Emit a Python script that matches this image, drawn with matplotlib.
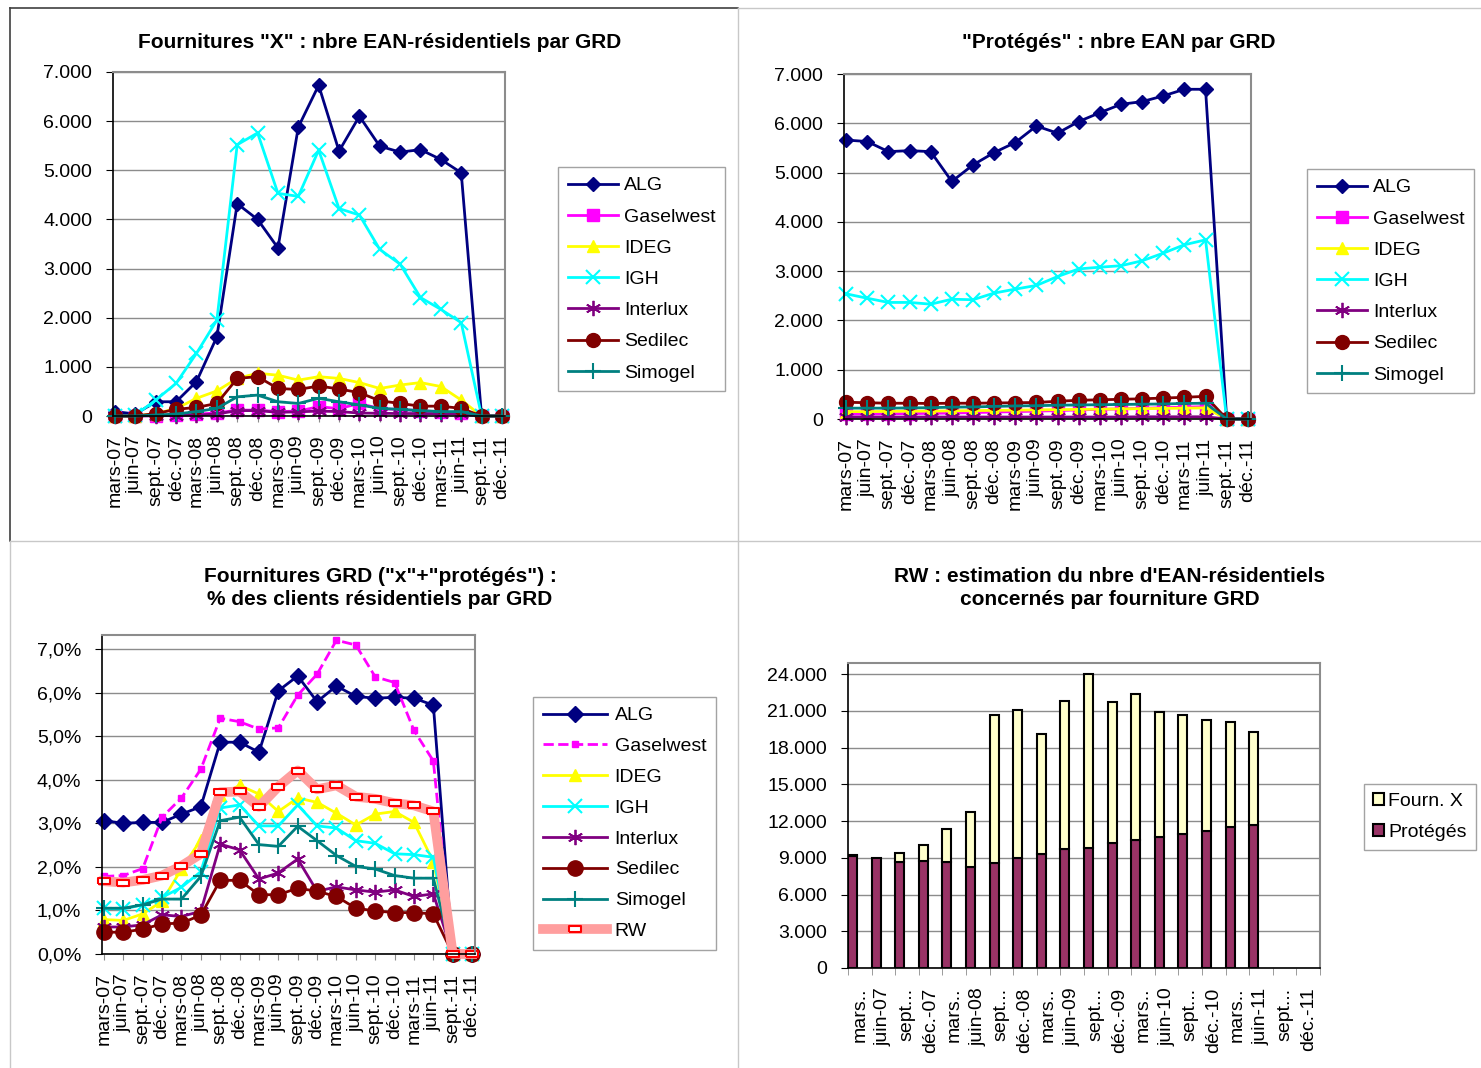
import numpy as np
import matplotlib
matplotlib.use("Agg")
import matplotlib.pyplot as plt
from matplotlib.lines import Line2D
from matplotlib.patches import Patch
from matplotlib.ticker import FuncFormatter, FixedLocator

plt.rcParams['font.family'] = ['Liberation Sans', 'DejaVu Sans']

# catégories (trimestres)
mois = ["mars-07", "juin-07", "sept.-07", "déc.-07", "mars-08", "juin-08", "sept.-08", "déc.-08",
        "mars-09", "juin-09", "sept.-09", "déc.-09", "mars-10", "juin-10", "sept.-10", "déc.-10",
        "mars-11", "juin-11", "sept.-11", "déc.-11"]
mois_court = ["mars..", "juin-07", "sept...", "déc.-07", "mars..", "juin-08", "sept...", "déc.-08",
              "mars..", "juin-09", "sept...", "déc.-09", "mars..", "juin-10", "sept...", "déc.-10",
              "mars..", "juin-11", "sept...", "déc.-11"]
grd = ["ALG", "Gaselwest", "IDEG", "IGH", "Interlux", "Sedilec", "Simogel"]

# Fournitures "X" : nbre EAN-résidentiels
x_alg = [90, 40, 290, 290, 700, 1610, 4320, 4000, 3420, 5880, 6730, 5390, 6100, 5490, 5370, 5420, 5220, 4950, 0, 0]
x_gas = [0, 0, 10, 20, 40, 60, 120, 120, 90, 100, 190, 150, 255, 150, 130, 110, 80, 60, 0, 0]
x_ideg = [0, 0, 50, 150, 360, 510, 765, 870, 830, 730, 800, 765, 680, 560, 630, 680, 600, 325, 0, 0]
x_igh = [0, 20, 325, 665, 1275, 1950, 5520, 5760, 4530, 4470, 5410, 4220, 4090, 3390, 3090, 2410, 2170, 1900, 0, 0]
x_inter = [0, 0, 5, 10, 20, 40, 110, 110, 75, 85, 100, 90, 60, 55, 50, 50, 45, 40, 0, 0]
x_sed = [0, 0, 50, 135, 175, 255, 765, 800, 560, 540, 610, 550, 475, 310, 255, 200, 200, 155, 0, 0]
x_sim = [0, 0, 20, 40, 90, 155, 390, 425, 290, 255, 360, 290, 225, 155, 135, 110, 90, 90, 0, 0]

# "Protégés" : nbre EAN
p_alg = [5660, 5630, 5425, 5445, 5425, 4820, 5155, 5405, 5610, 5945, 5800, 6035, 6215, 6385, 6440, 6555, 6690, 6690, 0, 0]
p_gas = [100, 100, 105, 110, 115, 120, 130, 140, 150, 160, 170, 185, 195, 205, 215, 230, 240, 250, 0, 0]
p_ideg = [150, 150, 155, 160, 160, 165, 170, 175, 180, 185, 190, 195, 200, 205, 210, 215, 220, 225, 0, 0]
p_igh = [2540, 2450, 2365, 2365, 2330, 2430, 2420, 2555, 2635, 2710, 2890, 3045, 3080, 3110, 3210, 3365, 3535, 3635, 0, 0]
p_inter = [40, 40, 40, 40, 40, 40, 40, 40, 40, 40, 40, 40, 40, 40, 45, 45, 45, 45, 0, 0]
p_sed = [340, 330, 320, 320, 315, 320, 320, 325, 330, 335, 360, 380, 390, 400, 410, 425, 440, 460, 0, 0]
p_sim = [220, 220, 220, 225, 230, 240, 245, 255, 265, 270, 280, 285, 290, 295, 300, 305, 315, 320, 0, 0]

# % des clients résidentiels
c_alg = [3.06, 3.00, 3.02, 3.02, 3.21, 3.38, 4.86, 4.86, 4.63, 6.04, 6.38, 5.79, 6.15, 5.91, 5.87, 5.89, 5.87, 5.71, 0, 0]
c_gas = [1.78, 1.80, 1.96, 3.14, 3.58, 4.24, 5.41, 5.33, 5.16, 5.19, 5.94, 6.42, 7.20, 7.09, 6.36, 6.23, 5.13, 4.43, 0, 0]
c_ideg = [0.79, 0.77, 0.92, 1.21, 1.95, 2.62, 3.64, 3.87, 3.67, 3.27, 3.58, 3.48, 3.23, 2.96, 3.21, 3.27, 3.02, 2.12, 0, 0]
c_igh = [1.05, 1.03, 1.13, 1.30, 1.53, 1.89, 3.35, 3.42, 2.94, 2.94, 3.42, 2.94, 2.89, 2.60, 2.54, 2.30, 2.28, 2.22, 0, 0]
c_inter = [0.62, 0.62, 0.67, 0.90, 0.86, 0.98, 2.52, 2.39, 1.72, 1.86, 2.18, 1.44, 1.54, 1.47, 1.42, 1.47, 1.32, 1.38, 0, 0]
c_sed = [0.50, 0.50, 0.57, 0.69, 0.71, 0.89, 1.69, 1.69, 1.36, 1.36, 1.51, 1.44, 1.32, 1.05, 0.99, 0.95, 0.95, 0.92, 0, 0]
c_sim = [1.05, 1.05, 1.13, 1.26, 1.26, 1.78, 3.06, 3.14, 2.51, 2.47, 2.93, 2.60, 2.26, 2.01, 1.95, 1.80, 1.74, 1.74, 0, 0]
c_rw = [1.67, 1.64, 1.70, 1.80, 2.02, 2.30, 3.71, 3.73, 3.38, 3.84, 4.21, 3.78, 3.87, 3.61, 3.56, 3.46, 3.41, 3.27, 0, 0]

# RW : estimation (barres empilées)
rw_protege = [9136, 8945, 8618, 8727, 8673, 8209, 8536, 8945, 9273, 9736, 9818, 10227, 10445, 10691, 10909, 11182, 11536, 11673, 0, 0]
rw_fourn = [50, 0, 790, 1310, 2645, 4555, 12082, 12137, 9845, 12082, 14182, 11482, 11919, 10200, 9709, 9082, 8509, 7582, 0, 0]

W, H = 1481, 1068
FS = 14


def rect(l, t, r, b):
    return [l / W, 1 - b / H, (r - l) / W, (b - t) / H]


def fx(x):
    return x / W


def fy(y):
    return 1 - y / H


etoile = (6, 2, 0)
rw_mk = [(-1, -0.45), (1, -0.45), (1, 0.45), (-1, 0.45), (-1, -0.45)]
styles = {
    "ALG": dict(color="#000080", marker="D", ms=7),
    "Gaselwest": dict(color="#FF00FF", marker="s", ms=8),
    "IDEG": dict(color="#FFFF00", marker="^", ms=9),
    "IGH": dict(color="#00FFFF", marker="x", ms=10, mew=1.5),
    "Interlux": dict(color="#800080", marker=etoile, ms=11, mew=1.3),
    "Sedilec": dict(color="#800000", marker="o", ms=10),
    "Simogel": dict(color="#008080", marker="+", ms=12, mew=1.5),
}


def style_axe(ax):
    ax.set_facecolor("white")
    ax.grid(axis="y", color="#8c8c8c", lw=1)
    ax.set_axisbelow(True)
    for s in ["top", "right"]:
        ax.spines[s].set_color("#8c8c8c")
        ax.spines[s].set_linewidth(1.5)
    for s in ["left", "bottom"]:
        ax.spines[s].set_color("black")
        ax.spines[s].set_linewidth(1.2)
    ax.tick_params(axis="y", labelsize=FS, length=5, pad=10, direction="out")
    ax.tick_params(axis="x", labelsize=FS, length=4, pad=10, direction="out", color="#8c8c8c")


def milliers(v, pos):
    return f"{v:,.0f}".replace(",", ".")


def pourcent(v, pos):
    return f"{v:.1f}%".replace(".", ",")


fig = plt.figure(figsize=(W / 100, H / 100), dpi=100)
x = np.arange(len(mois))

leg_kw = dict(loc="upper left", fontsize=FS, frameon=True, fancybox=False, edgecolor="#8c8c8c",
              handlelength=2.6, handletextpad=0.3, labelspacing=0.7, borderpad=0.5, borderaxespad=0)

# --- Graphique 1
ax1 = fig.add_axes(rect(113, 72, 505, 416))
series1 = [x_alg, x_gas, x_ideg, x_igh, x_inter, x_sed, x_sim]
for nom, vals in zip(grd, series1):
    ax1.plot(x, vals, lw=2, label=nom, clip_on=False, **styles[nom])
ax1.set_ylim(0, 7000)
ax1.set_xlim(-0.1, 19.15)
ax1.set_yticks(np.arange(0, 7001, 1000))
ax1.yaxis.set_major_formatter(FuncFormatter(milliers))
ax1.set_xticks(x)
ax1.set_xticklabels(mois, rotation=90)
style_axe(ax1)
lg = fig.legend(*ax1.get_legend_handles_labels(), bbox_to_anchor=(fx(558), fy(167)), **leg_kw)
lg.get_frame().set_linewidth(1)
fig.text(fx(380), fy(42), 'Fournitures "X" : nbre EAN-résidentiels par GRD', ha="center", va="center",
         fontsize=15, fontweight="bold")

# --- Graphique 2
ax2 = fig.add_axes(rect(844, 74, 1251, 419))
series2 = [p_alg, p_gas, p_ideg, p_igh, p_inter, p_sed, p_sim]
for nom, vals in zip(grd, series2):
    ax2.plot(x, vals, lw=2, label=nom, clip_on=False, **styles[nom])
ax2.set_ylim(0, 7000)
ax2.set_xlim(-0.1, 19.15)
ax2.set_yticks(np.arange(0, 7001, 1000))
ax2.yaxis.set_major_formatter(FuncFormatter(milliers))
ax2.set_xticks(x)
ax2.set_xticklabels(mois, rotation=90)
style_axe(ax2)
lg = fig.legend(*ax2.get_legend_handles_labels(), bbox_to_anchor=(fx(1307), fy(169)), **leg_kw)
lg.get_frame().set_linewidth(1)
fig.text(fx(1119), fy(43), '"Protégés" : nbre EAN par GRD', ha="center", va="center",
         fontsize=15, fontweight="bold")

# --- Graphique 3
ax3 = fig.add_axes(rect(102, 635, 475, 954))
series3 = [c_alg, c_gas, c_ideg, c_igh, c_inter, c_sed, c_sim]
st3 = {k: dict(v) for k, v in styles.items()}
st3["ALG"]["ms"] = 8
st3["Gaselwest"].update(ms=5, ls="--")
st3["Sedilec"]["ms"] = 11
for nom, vals in zip(grd, series3):
    kw = dict(st3[nom])
    ls = kw.pop("ls", "-")
    ax3.plot(x, vals, lw=2, ls=ls, label=nom, clip_on=False, **kw)
ax3.plot(x, c_rw, lw=7, color="#FF9E9E", marker=rw_mk, ms=9, mfc="white", mec="red", mew=1.5,
         label="RW", clip_on=False)
ax3.set_ylim(0, 7.32)
ax3.set_xlim(-0.1, 19.15)
ax3.set_yticks(np.arange(0, 7.01, 1))
ax3.yaxis.set_major_formatter(FuncFormatter(pourcent))
ax3.set_xticks(x)
ax3.set_xticklabels(mois, rotation=90)
style_axe(ax3)
leg3 = dict(leg_kw)
leg3.update(handlelength=3.3, handletextpad=0.4, labelspacing=0.68)
lg = fig.legend(*ax3.get_legend_handles_labels(), bbox_to_anchor=(fx(533), fy(697)), **leg3)
lg.get_frame().set_linewidth(1)
fig.text(fx(380), fy(588), 'Fournitures GRD ("x"+"protégés") :\n% des clients résidentiels par GRD',
         ha="center", va="center", fontsize=15, fontweight="bold", linespacing=1.28)

# --- Graphique 4
ax4 = fig.add_axes(rect(848, 663, 1320, 968))
larg = 0.38
bord_p = ["black" if v > 0 else "none" for v in rw_protege]
bord_f = ["black" if v > 0 else "none" for v in rw_fourn]
ax4.bar(x, rw_protege, width=larg, align="edge", color="#993366", edgecolor=bord_p, lw=1.5,
        label="Protégés", zorder=3)
ax4.bar(x, rw_fourn, width=larg, bottom=rw_protege, align="edge", color="#FFFFCC", edgecolor=bord_f,
        lw=1.5, label="Fourn. X", zorder=3)
ax4.set_ylim(0, 24900)
ax4.set_xlim(0, 20)
ax4.set_yticks(np.arange(0, 24001, 3000))
ax4.yaxis.set_major_formatter(FuncFormatter(milliers))
ax4.set_xticks(x + 0.5)
ax4.set_xticklabels(mois_court, rotation=90)
ax4.xaxis.set_minor_locator(FixedLocator(np.arange(0, 21)))
style_axe(ax4)
ax4.tick_params(axis="x", which="major", length=0, pad=14)
ax4.tick_params(axis="x", which="minor", length=5, color="#8c8c8c")
poign = [Patch(facecolor="#FFFFCC", edgecolor="black", lw=1.5), Patch(facecolor="#993366", edgecolor="black", lw=1.5)]
leg4 = dict(leg_kw)
leg4.update(handlelength=0.6, handleheight=0.6, handletextpad=0.2, labelspacing=0.72, borderpad=0.45)
lg = fig.legend(poign, ["Fourn. X", "Protégés"], bbox_to_anchor=(fx(1364), fy(784)), **leg4)
lg.get_frame().set_linewidth(1)
fig.text(fx(1110), fy(588), "RW : estimation du nbre d'EAN-résidentiels\nconcernés par fourniture GRD",
         ha="center", va="center", fontsize=15, fontweight="bold", linespacing=1.28)

# cadres des panneaux
fig.add_artist(Line2D([fx(10), fx(738)], [fy(8), fy(8)], color="#404040", lw=1.2))
fig.add_artist(Line2D([fx(10), fx(10)], [fy(8), fy(541)], color="#404040", lw=1.2))
fig.add_artist(Line2D([fx(738), fx(1481)], [fy(8), fy(8)], color="#c8c8c8", lw=1))
fig.add_artist(Line2D([fx(738), fx(738)], [fy(8), fy(1068)], color="#c8c8c8", lw=1))
fig.add_artist(Line2D([fx(10), fx(1481)], [fy(541), fy(541)], color="#c8c8c8", lw=1))
fig.add_artist(Line2D([fx(10), fx(10)], [fy(541), fy(1068)], color="#c8c8c8", lw=1))

fig.savefig("out.png", dpi=100, facecolor="white")
